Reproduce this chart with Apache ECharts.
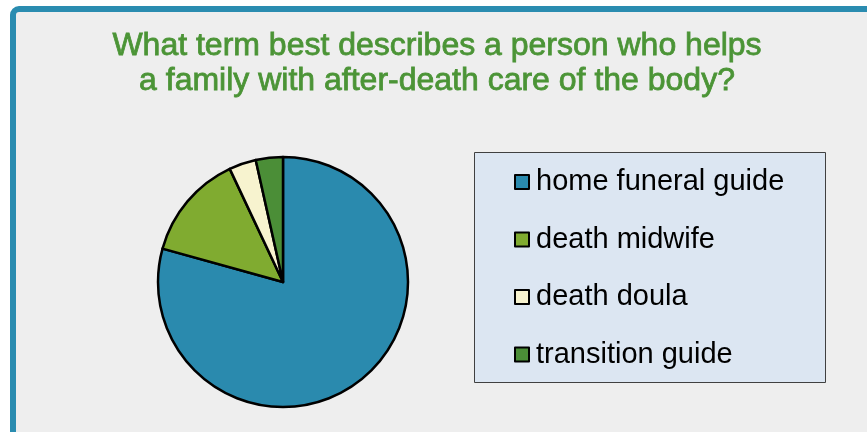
<!DOCTYPE html>
<html>
<head>
<meta charset="utf-8">
<script src="https://cdn.jsdelivr.net/npm/echarts@6/dist/echarts.min.js"></script>
<style>
  body { margin: 0; background: #fff; }
  #chart { width: 867px; height: 432px; }
</style>
</head>
<body>
<div id="chart"></div>
<script>
const categories = ['home funeral guide', 'death midwife', 'death doula', 'transition guide']
const shares = [79.3, 13.7, 3.5, 3.5]
const colors = ['#2a8aae', '#80ab30', '#f7f3cf', '#4b8e37']
const titleLines = ['What term best describes a person who helps', 'a family with after-death care of the body?']

const chart = echarts.init(document.getElementById('chart'))

const option = {
    backgroundColor: '#ffffff',
    animation: false,
    graphic: [
        {
            type: 'rect',
            shape: {x: 13, y: 9, width: 900, height: 500, r: 6},
            style: {fill: '#eeeeee', stroke: '#2a8cb0', lineWidth: 6},
            z: -10
        },
        {
            type: 'rect',
            shape: {x: 474.5, y: 152.5, width: 351, height: 230},
            style: {fill: '#dce6f2', stroke: '#404040', lineWidth: 1},
            z: -5
        },
        {
            type: 'text',
            x: 437,
            y: 29,
            style: {
                text: titleLines.join('\n'),
                textAlign: 'center',
                textVerticalAlign: 'top',
                fill: '#4b9436',
                stroke: '#4b9436',
                lineWidth: 0.8,
                font: '32px "Liberation Sans", Arial, sans-serif',
                lineHeight: 35
            }
        }
    ],
    legend: {
        orient: 'vertical',
        left: 514,
        top: 167,
        padding: 0,
        itemGap: 27.5,
        itemWidth: 14,
        itemHeight: 14,
        icon: 'rect',
        itemStyle: {borderColor: '#000', borderWidth: 2},
        textStyle: {
            color: '#000',
            fontSize: 29,
            fontFamily: '"Liberation Sans", Arial, sans-serif',
            lineHeight: 30,
            padding: [0, 0, 0, 2]
        },
        data: categories
    },
    series: [
        {
            type: 'pie',
            center: [283, 282],
            radius: [0, 125],
            startAngle: 90,
            clockwise: true,
            label: {show: false},
            labelLine: {show: false},
            emphasis: {disabled: true},
            itemStyle: {borderColor: '#000', borderWidth: 2.5},
            data: categories.map((name, i) => ({
                name: name,
                value: shares[i],
                itemStyle: {color: colors[i]}
            }))
        }
    ]
}

chart.setOption(option)
</script>
</body>
</html>
